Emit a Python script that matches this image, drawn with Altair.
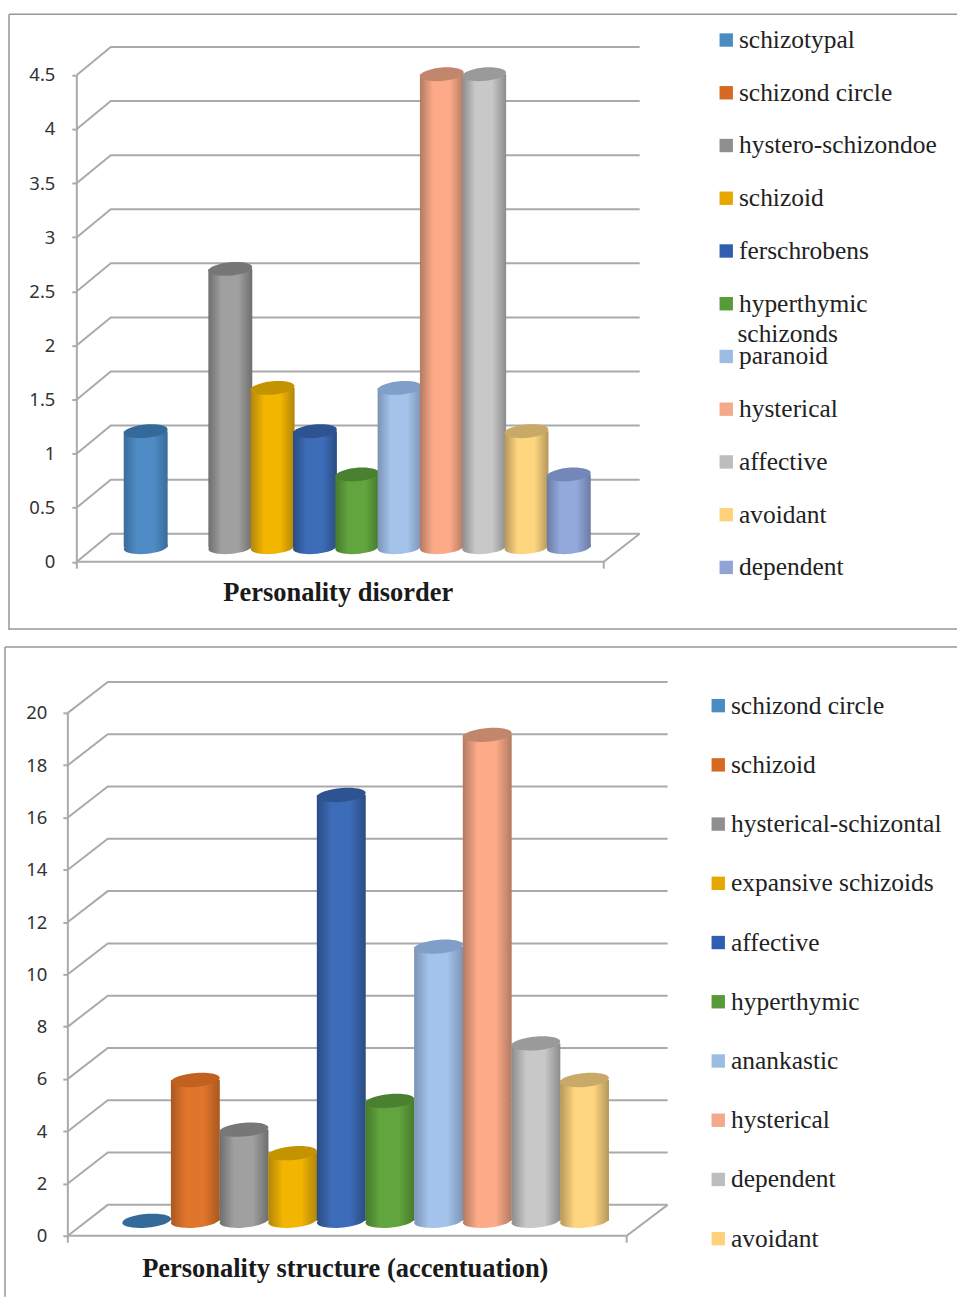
import altair as alt
import pandas as pd

# Personality disorder panel
disorder_names = ["schizotypal", "schizond circle", "hystero-schizondoe", "schizoid", "ferschrobens",
                  "hyperthymic", "paranoid", "hysterical", "affective", "avoidant", "dependent"]
disorder_values = [1.1, 0, 2.6, 1.5, 1.1, 0.7, 1.5, 4.4, 4.4, 1.1, 0.7]
disorder_ticks = [0, 0.5, 1, 1.5, 2, 2.5, 3, 3.5, 4, 4.5]

# Personality structure panel
structure_names = ["schizond circle", "schizoid", "hysterical-schizontal", "expansive schizoids", "affective",
                   "hyperthymic", "anankastic", "hysterical", "dependent", "avoidant"]
structure_values = [0, 5.5, 3.6, 2.7, 16.4, 4.7, 10.6, 18.7, 6.9, 5.5]
structure_ticks = [0, 2, 4, 6, 8, 10, 12, 14, 16, 18, 20]

# Cylinder shading per series: edge, centre, cap, legend swatch
blue = ("#3a6c99", "#4f8cc6", "#346a9a", "#4a8bc2")
orange = ("#a9581f", "#e0752d", "#c2601f", "#d66a20")
gray = ("#6e6e6e", "#a0a0a0", "#777777", "#8f8f8f")
gold = ("#b0850a", "#f2b500", "#c49400", "#e6a800")
navy = ("#2a4c82", "#3d6cb8", "#2d5391", "#2f5db0")
green = ("#467a2c", "#62a53e", "#4a8130", "#579a38")
sky = ("#7b94b5", "#a3c3ea", "#7f9fc8", "#9cbde3")
salmon = ("#b27a62", "#fcaa88", "#c2866c", "#f4a98a")
silver = ("#8c8c8c", "#c8c8c8", "#9a9a9a", "#bdbdbd")
sand = ("#b3975a", "#ffd680", "#c9a968", "#ffd17a")
periwinkle = ("#6a7ba3", "#93a9dc", "#7487b8", "#8fa3d6")
disorder_colors = [blue, orange, gray, gold, navy, green, sky, salmon, silver, sand, periwinkle]
structure_colors = [blue, orange, gray, gold, navy, green, sky, salmon, silver, sand]

SERIF = "Liberation Serif"
GRID = "#aaaaaa"
FRAME = "#979797"


def gradient(edge, centre):
    return alt.Gradient(
        gradient="linear", x1=0, x2=1, y1=0, y2=0,
        stops=[alt.GradientStop(offset=0, color=edge),
               alt.GradientStop(offset=0.3, color=centre),
               alt.GradientStop(offset=0.68, color=centre),
               alt.GradientStop(offset=1, color=edge)],
    )


def panel(names, values, colors, ticks, title, title_xy, wrapped, geometry):
    g = geometry
    ix = lambda px: (px - g["first"]) / g["step"]
    iy = lambda px: (g["floor"] - px) / g["unit"]

    x_scale = alt.Scale(domain=[ix(g["left"]), ix(g["left"] + g["width"])], nice=False, zero=False)
    y_scale = alt.Scale(domain=[iy(g["top"] + g["height"]), iy(g["top"])], nice=False, zero=False)
    # The value axis sits inside the frame, so every layer shares one axis definition.
    y_axis = alt.Axis(values=ticks, format="~g", title=None, domain=False, grid=False,
                      offset=g["left"] - g["axis"], tickSize=5, tickColor=GRID, tickWidth=2,
                      labelPadding=g["pad"], labelFont="Noto Sans", labelFontSize=18.5, labelColor="#333333")
    X = alt.X("x:Q", scale=x_scale, axis=None)
    Y = alt.Y("y:Q", scale=y_scale, axis=y_axis)
    Y_TOP = alt.Y("top:Q", scale=y_scale, axis=y_axis)

    depth = iy(g["floor"] - g["depth"])
    base = iy(g["floor"] - g["lift"])
    cap_base = iy(g["floor"] - g["cap_lift"])
    half = g["bar"] / g["step"] / 2
    xf, xb, xe, xr = ix(g["axis"]), ix(g["back"]), ix(g["front_end"]), ix(g["back_end"])

    # Wall lines run from the value axis, back along the side wall, then across the rear wall.
    wall_rows = []
    for t in ticks:
        wall_rows += [dict(x=xf, y=t, t=t), dict(x=xb, y=t + depth, t=t), dict(x=xr, y=t + depth, t=t)]
    walls = alt.Chart(pd.DataFrame(wall_rows)).mark_line(color=GRID, strokeWidth=2).encode(
        x=X, y=Y, detail="t:N")
    floor_front = alt.Chart(pd.DataFrame([dict(x=xf, y=0), dict(x=xe, y=0), dict(x=xr, y=depth)])).mark_line(
        color=GRID, strokeWidth=2).encode(x=X, y=Y)
    axis_line = alt.Chart(pd.DataFrame([dict(x=xf, y=0, y2=ticks[-1])])).mark_rule(
        color=GRID, strokeWidth=2).encode(x=X, y=Y, y2="y2:Q")
    end_ticks = alt.Chart(pd.DataFrame([dict(x=xf), dict(x=xe)]).assign(y=0, y2=iy(g["floor"] + 7))).mark_rule(
        color=GRID, strokeWidth=2).encode(x=X, y=Y, y2="y2:Q")

    layers = [axis_line, walls, floor_front, end_ticks]

    # Invisible carrier of the color legend.
    legend_frame = pd.DataFrame({"name": names, "x": range(len(names)), "y": [base] * len(names)})
    layers.append(alt.Chart(legend_frame).mark_point(shape="square", filled=True, opacity=0).encode(
        x=X, y=Y,
        color=alt.Color("name:N", sort=None, scale=alt.Scale(domain=names, range=[c[3] for c in colors]),
                        legend=alt.Legend(orient="none", legendX=g["legend_x"], legendY=g["legend_y"], title=None,
                                          symbolType="square", symbolSize=180, symbolOpacity=1,
                                          symbolStrokeWidth=0, labelFont=SERIF, labelFontSize=g["legend_size"],
                                          labelColor="#222222", labelLimit=400, labelOffset=0,
                                          rowPadding=g["row_pad"], padding=0))))

    r = g["squash"]
    ellipse = f"M-0.996,0.07A1,{r} -5 1,1 0.996,-0.07A1,{r} -5 1,1 -0.996,0.07Z"
    ell_size = g["bar"] ** 2
    for i, (value, color) in enumerate(zip(values, colors)):
        if value == 0 and i == 1:
            continue
        top = cap_base + value if value > 0 else base
        row = pd.DataFrame([dict(x=i - half, x2=i + half, y=base, top=top, xc=i)])
        shade = gradient(color[0], color[1])
        foot = alt.Chart(row).mark_point(shape=ellipse, size=ell_size, filled=True, opacity=1,
                                         color=shade, strokeWidth=0).encode(
            x=alt.X("xc:Q", scale=x_scale, axis=None), y=Y)
        body = alt.Chart(row).mark_bar(color=shade).encode(x=X, x2="x2:Q", y=Y_TOP, y2="y:Q")
        cap = alt.Chart(row).mark_point(shape=ellipse, size=ell_size, filled=True, opacity=1,
                                        color=color[2], strokeWidth=0).encode(
            x=alt.X("xc:Q", scale=x_scale, axis=None), y=Y_TOP)
        layers += [foot, body, cap] if value > 0 else [cap]

    heading = alt.Chart(pd.DataFrame([dict(x=ix(title_xy[0]), y=iy(title_xy[1]), t=title)])).mark_text(
        font=SERIF, fontSize=g["title_size"], fontWeight="bold", color="#1a1a1a").encode(x=X, y=Y, text="t:N")
    layers.append(heading)

    if wrapped:
        second = alt.Chart(pd.DataFrame([dict(x=ix(wrapped[1]), y=iy(wrapped[2]), t=wrapped[0])])).mark_text(
            font=SERIF, fontSize=g["legend_size"], color="#222222", align="left").encode(x=X, y=Y, text="t:N")
        layers.append(second)

    # Frame edges of the panel
    for kw in g["edges"]:
        layers.append(alt.Chart(pd.DataFrame([dict(a=0)])).mark_rule(color=FRAME, strokeWidth=1.5).encode(**kw))

    return alt.layer(*layers).resolve_scale(color="independent").properties(width=g["width"], height=g["height"])


top_panel = panel(
    disorder_names, disorder_values, disorder_colors, disorder_ticks,
    "Personality disorder", (338, 594), ("schizonds", 738, 334),
    dict(left=4, top=14, width=954, height=617, first=145, step=42.4, floor=562.5, unit=108.4,
         depth=28, lift=14.5, cap_lift=11.5, bar=44, axis=76, back=110, front_end=604, back_end=640, pad=17,
         squash=0.3, title_size=26.5, legend_size=25.5, legend_x=710, legend_y=13, row_pad=25.85,
         edges=[dict(x=alt.value(4), x2=alt.value(954), y=alt.value(0)),
                dict(x=alt.value(4), x2=alt.value(954), y=alt.value(616)),
                dict(x=alt.value(4), y=alt.value(0), y2=alt.value(617))]),
)

bottom_panel = panel(
    structure_names, structure_values, structure_colors, structure_ticks,
    "Personality structure (accentuation)", (345, 1269), None,
    dict(left=4, top=646, width=954, height=651, first=146, step=48.75, floor=1236, unit=26.2,
         depth=31, lift=15, cap_lift=12, bar=49, axis=67, back=107, front_end=627, back_end=668, pad=16,
         squash=0.28, title_size=26.5, legend_size=25.5, legend_x=702, legend_y=46, row_pad=32.35,
         edges=[dict(x=alt.value(0), x2=alt.value(954), y=alt.value(0)),
                dict(x=alt.value(0), y=alt.value(0), y2=alt.value(651))]),
)

chart = alt.vconcat(top_panel, bottom_panel, spacing=15).properties(
    padding={"left": 4, "top": 12, "right": 0, "bottom": 0}
).configure_view(stroke=None)

chart.save("out.html", embed_options={"renderer": "svg", "actions": False})
